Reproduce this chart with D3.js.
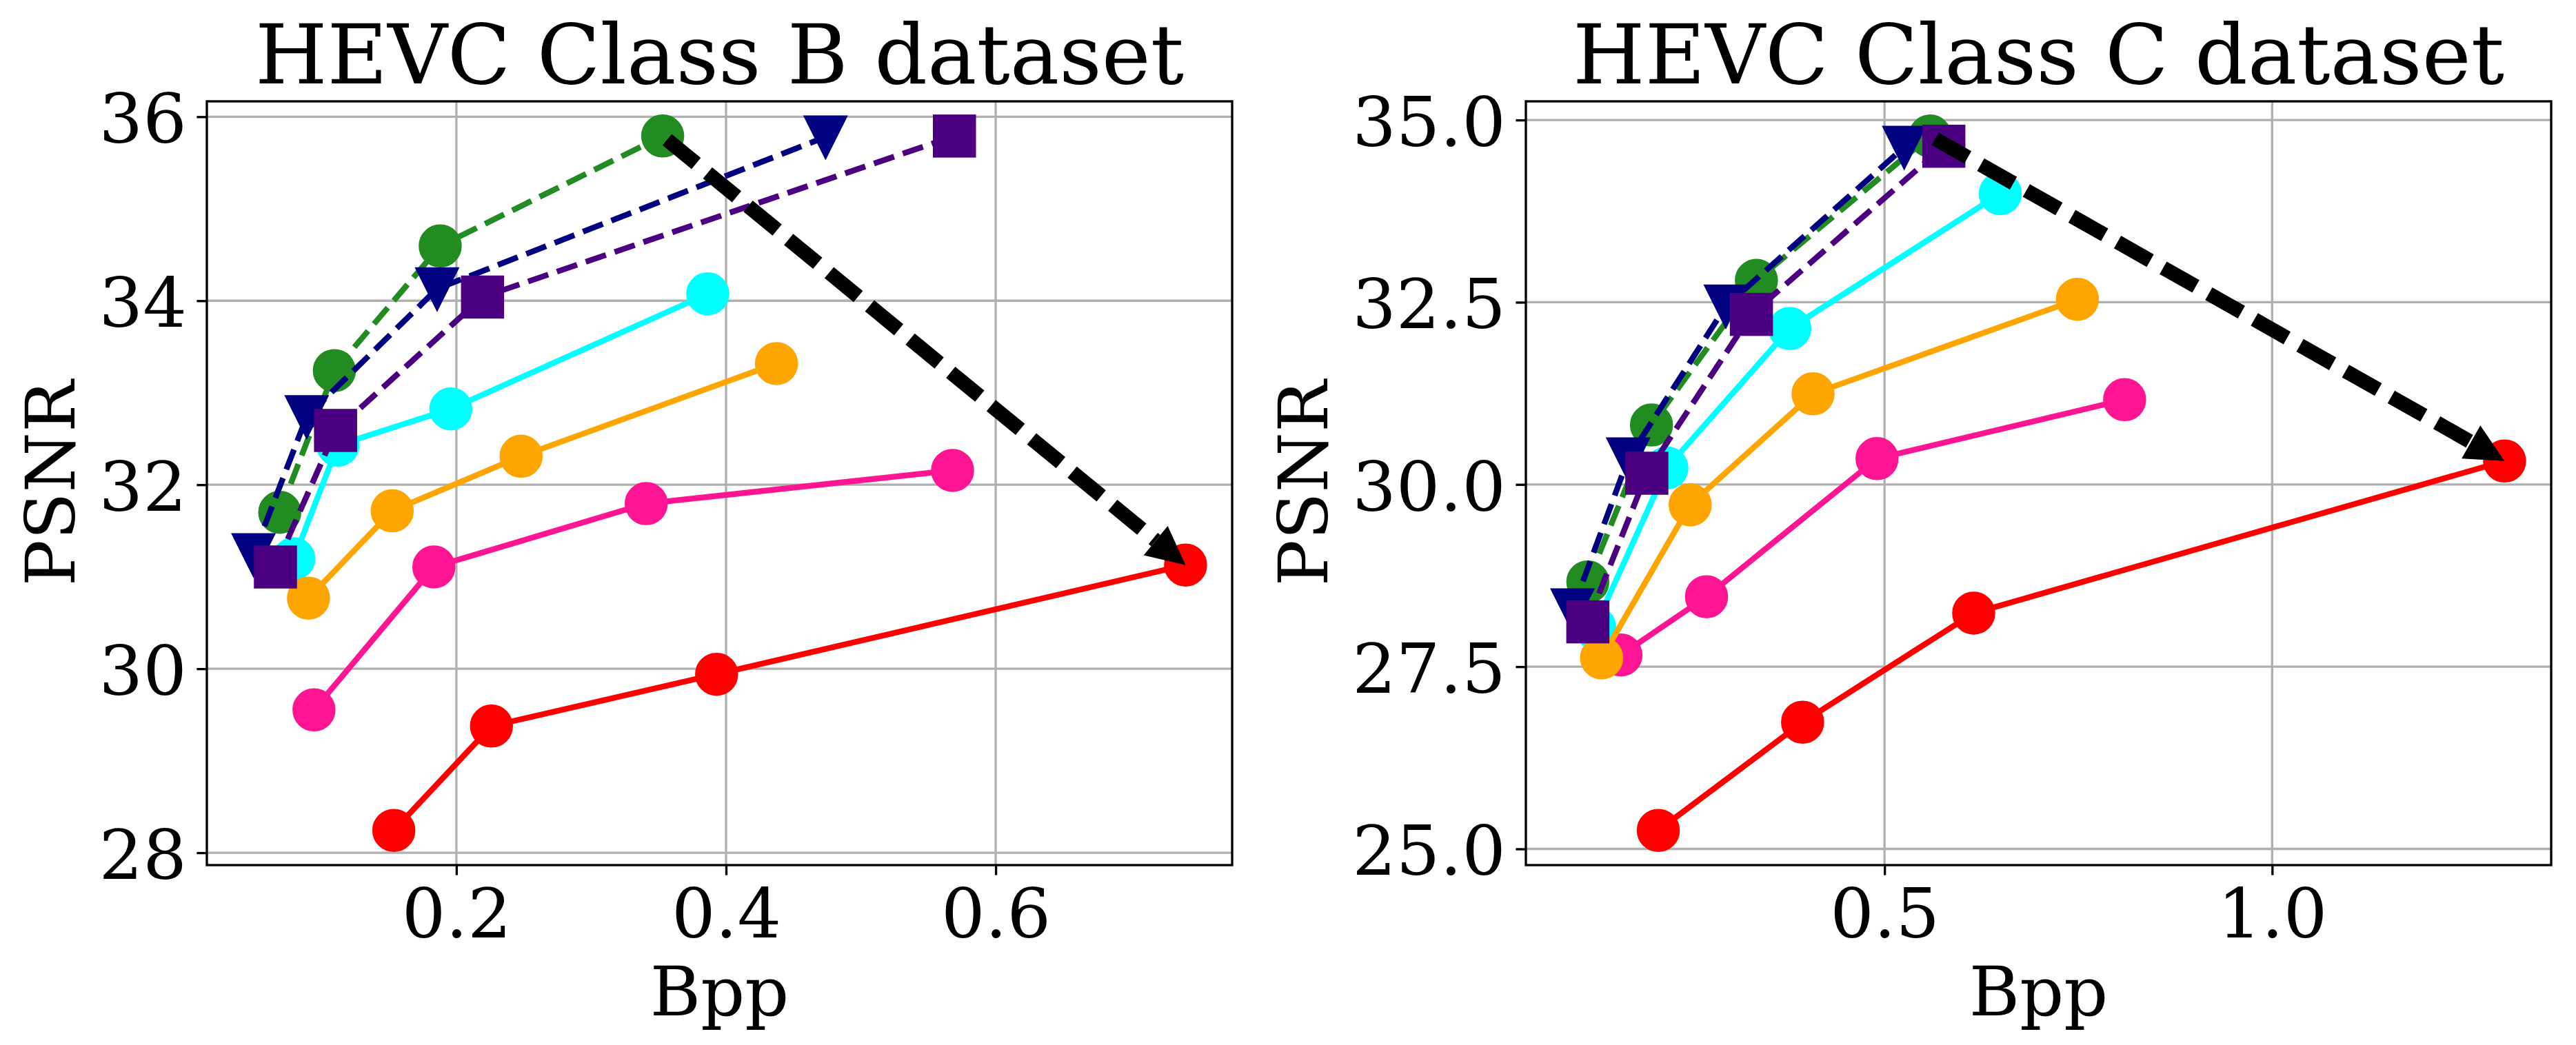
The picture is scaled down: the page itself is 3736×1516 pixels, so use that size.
<!DOCTYPE html>
<html>
<head>
<meta charset="utf-8">
<script src="https://cdn.jsdelivr.net/npm/d3@7/dist/d3.min.js"></script>
<style>
  html, body { margin: 0; padding: 0; background: #fff; }
  svg { display: block; }
</style>
</head>
<body>
<script>
// ---------------- DATA ----------------
const seriesNames = ["red", "pink", "cyan", "orange", "green", "navy", "indigo"];
const seriesColors = ["#ff0000", "#ff1493", "#00ffff", "#ffa500", "#228b22", "#000080", "#4b0082"];
const seriesMarkers = ["circle", "circle", "circle", "circle", "circle", "triangle", "square"];
const seriesDashed = [false, false, false, false, true, true, true];

// HEVC Class B
const classB_bpp_red    = [0.1536, 0.226, 0.393, 0.7408];
const classB_psnr_red   = [28.243, 29.377, 29.94, 31.127];
const classB_bpp_pink   = [0.0944, 0.1833, 0.3408, 0.568];
const classB_psnr_pink  = [29.553, 31.106, 31.795, 32.156];
const classB_bpp_cyan   = [0.0794, 0.1121, 0.1959, 0.3864];
const classB_psnr_cyan  = [31.196, 32.43, 32.824, 34.075];
const classB_bpp_orange = [0.0903, 0.1524, 0.248, 0.4374];
const classB_psnr_orange= [30.767, 31.716, 32.31, 33.317];
const classB_bpp_green  = [0.069, 0.1095, 0.188, 0.353];
const classB_psnr_green = [31.70, 33.24, 34.595, 35.79];
const classB_bpp_navy   = [0.0495, 0.089, 0.1857, 0.4738];
const classB_psnr_navy  = [31.24, 32.74, 34.13, 35.78];
const classB_bpp_indigo = [0.0658, 0.1104, 0.2194, 0.5694];
const classB_psnr_indigo= [31.106, 32.59, 34.04, 35.79];

// HEVC Class C
const classC_bpp_red    = [0.2082, 0.3943, 0.615, 1.2998];
const classC_psnr_red   = [25.254, 26.738, 28.235, 30.321];
const classC_bpp_pink   = [0.16, 0.2704, 0.4903, 0.8097];
const classC_psnr_pink  = [27.66, 28.46, 30.354, 31.163];
const classC_bpp_cyan   = [0.1262, 0.2192, 0.3778, 0.6493];
const classC_psnr_cyan  = [28.04, 30.227, 32.139, 33.99];
const classC_bpp_orange = [0.1351, 0.2493, 0.4078, 0.7488];
const classC_psnr_orange= [27.62, 29.72, 31.243, 32.54];
const classC_bpp_green  = [0.1173, 0.1994, 0.3347, 0.5588];
const classC_psnr_green = [28.663, 30.815, 32.80, 34.78];
const classC_bpp_navy   = [0.0975, 0.1693, 0.2953, 0.5254];
const classC_psnr_navy  = [28.28, 30.35, 32.447, 34.626];
const classC_bpp_indigo = [0.1173, 0.1934, 0.3283, 0.5765];
const classC_psnr_indigo= [28.115, 30.154, 32.333, 34.64];

// Tick labels
const classB_xticks = [0.2, 0.4, 0.6];
const classB_yticks = [28, 30, 32, 34, 36];
const classC_xticks = [0.5, 1.0];
const classC_yticks = [25.0, 27.5, 30.0, 32.5, 35.0];

const titles = ["HEVC Class B dataset", "HEVC Class C dataset"];
const xLabel = "Bpp";
const yLabel = "PSNR";

// ---------------- LAYOUT / STYLE ----------------
const W = 3736, H = 1516;
const FONT = "'DejaVu Serif', serif";
const PT = 300 / 72; // px per point at 300 dpi
const panels = [
  { left: 300, right: 1787, top: 147, bottom: 1255, ylabelX: 108,
    title: titles[0], xticks: classB_xticks, yticks: classB_yticks, yfmt: d3.format("d"), xfmt: d3.format(".1f"),
    bpp: [classB_bpp_red, classB_bpp_pink, classB_bpp_cyan, classB_bpp_orange, classB_bpp_green, classB_bpp_navy, classB_bpp_indigo],
    psnr: [classB_psnr_red, classB_psnr_pink, classB_psnr_cyan, classB_psnr_orange, classB_psnr_green, classB_psnr_navy, classB_psnr_indigo] },
  { left: 2213, right: 3700, top: 147, bottom: 1255, ylabelX: 1925,
    title: titles[1], xticks: classC_xticks, yticks: classC_yticks, yfmt: d3.format(".1f"), xfmt: d3.format(".1f"),
    bpp: [classC_bpp_red, classC_bpp_pink, classC_bpp_cyan, classC_bpp_orange, classC_bpp_green, classC_bpp_navy, classC_bpp_indigo],
    psnr: [classC_psnr_red, classC_psnr_pink, classC_psnr_cyan, classC_psnr_orange, classC_psnr_green, classC_psnr_navy, classC_psnr_indigo] }
];

const svg = d3.select("body").append("svg")
  .attr("width", W).attr("height", H)
  .attr("viewBox", `0 0 ${W} ${H}`)
  .style("font-family", FONT);

svg.append("rect").attr("width", W).attr("height", H).attr("fill", "#fff");

const LW = 2 * PT;            // series line width
const MS = 14 * PT;           // marker size
const MEW = 1 * PT;           // marker edge width
const TICK = 3.5 * PT;
const GRIDW = 0.8 * PT;

function padded(ext) {
  const r = ext[1] - ext[0];
  return [ext[0] - 0.05 * r, ext[1] + 0.05 * r];
}

panels.forEach((p, pi) => {
  const allX = d3.merge(p.bpp), allY = d3.merge(p.psnr);
  const x = d3.scaleLinear().domain(padded(d3.extent(allX))).range([p.left, p.right]);
  const y = d3.scaleLinear().domain(padded(d3.extent(allY))).range([p.bottom, p.top]);

  const g = svg.append("g");
  const clipId = "clip" + pi;
  svg.append("defs").append("clipPath").attr("id", clipId)
    .append("rect").attr("x", p.left).attr("y", p.top)
    .attr("width", p.right - p.left).attr("height", p.bottom - p.top);

  // grid
  const grid = g.append("g").attr("stroke", "#b0b0b0").attr("stroke-width", GRIDW);
  grid.selectAll("line.gx").data(p.xticks).join("line")
    .attr("x1", d => x(d)).attr("x2", d => x(d)).attr("y1", p.top).attr("y2", p.bottom);
  grid.selectAll("line.gy").data(p.yticks).join("line")
    .attr("y1", d => y(d)).attr("y2", d => y(d)).attr("x1", p.left).attr("x2", p.right);

  // series
  const plot = g.append("g").attr("clip-path", `url(#${clipId})`);
  const line = d3.line().x(d => x(d[0])).y(d => y(d[1]));
  seriesNames.forEach((name, si) => {
    const pts = p.bpp[si].map((v, i) => [v, p.psnr[si][i]]);
    const col = seriesColors[si];
    const sg = plot.append("g");
    sg.append("path").datum(pts).attr("d", line)
      .attr("fill", "none").attr("stroke", col).attr("stroke-width", LW)
      .attr("stroke-linejoin", "round")
      .attr("stroke-linecap", seriesDashed[si] ? "butt" : "square")
      .attr("stroke-dasharray", seriesDashed[si] ? `${3.7 * LW},${1.6 * LW}` : null);
    const m = sg.append("g").attr("fill", col).attr("stroke", col).attr("stroke-width", MEW);
    const h = MS / 2;
    if (seriesMarkers[si] === "circle") {
      m.selectAll("circle").data(pts).join("circle")
        .attr("cx", d => x(d[0])).attr("cy", d => y(d[1])).attr("r", h);
    } else if (seriesMarkers[si] === "triangle") {
      m.selectAll("path").data(pts).join("path")
        .attr("d", d => {
          const cx = x(d[0]), cy = y(d[1]);
          return `M${cx},${cy + h}L${cx - h},${cy - h}L${cx + h},${cy - h}Z`;
        }).attr("stroke-linejoin", "miter");
    } else {
      m.selectAll("rect").data(pts).join("rect")
        .attr("x", d => x(d[0]) - h).attr("y", d => y(d[1]) - h)
        .attr("width", MS).attr("height", MS);
    }
  });

  // spines
  g.append("rect").attr("x", p.left).attr("y", p.top)
    .attr("width", p.right - p.left).attr("height", p.bottom - p.top)
    .attr("fill", "none").attr("stroke", "#000").attr("stroke-width", GRIDW);

  // axes
  const ax = g.append("g").attr("transform", `translate(0,${p.bottom})`)
    .call(d3.axisBottom(x).tickValues(p.xticks).tickFormat(p.xfmt).tickSize(TICK).tickPadding(0));
  ax.select(".domain").remove();
  ax.selectAll(".tick line").attr("stroke", "#000").attr("stroke-width", GRIDW);
  ax.selectAll(".tick text").attr("y", 105.4).attr("dy", null)
    .attr("font-family", FONT).attr("font-size", 100).attr("fill", "#000");

  const ay = g.append("g").attr("transform", `translate(${p.left},0)`)
    .call(d3.axisLeft(y).tickValues(p.yticks).tickFormat(p.yfmt).tickSize(TICK).tickPadding(0));
  ay.select(".domain").remove();
  ay.selectAll(".tick line").attr("stroke", "#000").attr("stroke-width", GRIDW);
  ay.selectAll(".tick text").attr("x", -2 * TICK).attr("y", 37.5).attr("dy", null)
    .attr("font-family", FONT).attr("font-size", 100).attr("fill", "#000");

  // title & labels
  const cx = (p.left + p.right) / 2, cy = (p.top + p.bottom) / 2;
  g.append("text").attr("x", cx).attr("y", 121).attr("text-anchor", "middle")
    .attr("font-size", 120).attr("fill", "#000").text(p.title);
  g.append("text").attr("x", cx).attr("y", 1473.3).attr("text-anchor", "middle")
    .attr("font-size", 100).attr("fill", "#000").text(xLabel);
  g.append("text").attr("transform", `translate(${p.ylabelX},${cy}) rotate(-90)`)
    .attr("text-anchor", "middle").attr("font-size", 100).attr("fill", "#000").text(yLabel);

  // arrow from top of green series to last red point
  const gi = seriesNames.indexOf("green"), ri = seriesNames.indexOf("red");
  const gLast = p.bpp[gi].length - 1, rLast = p.bpp[ri].length - 1;
  const sx = x(p.bpp[gi][gLast]), sy = y(p.psnr[gi][gLast]);
  const tx = x(p.bpp[ri][rLast]), ty = y(p.psnr[ri][rLast]);
  const len = Math.hypot(tx - sx, ty - sy);
  const ux = (tx - sx) / len, uy = (ty - sy) / len;
  const shrinkA = 2 * PT, headL = 56, headW = 55;
  const bx = tx - headL * ux, by = ty - headL * uy;
  const ag = g.append("g");
  ag.append("line")
    .attr("x1", sx + shrinkA * ux).attr("y1", sy + shrinkA * uy)
    .attr("x2", bx).attr("y2", by)
    .attr("stroke", "#000").attr("stroke-width", 21)
    .attr("stroke-dasharray", "54.5,21.5").attr("stroke-linecap", "butt");
  ag.append("path")
    .attr("d", `M${tx},${ty}L${bx - uy * headW / 2},${by + ux * headW / 2}L${bx + uy * headW / 2},${by - ux * headW / 2}Z`)
    .attr("fill", "#000");
});
</script>
</body>
</html>
